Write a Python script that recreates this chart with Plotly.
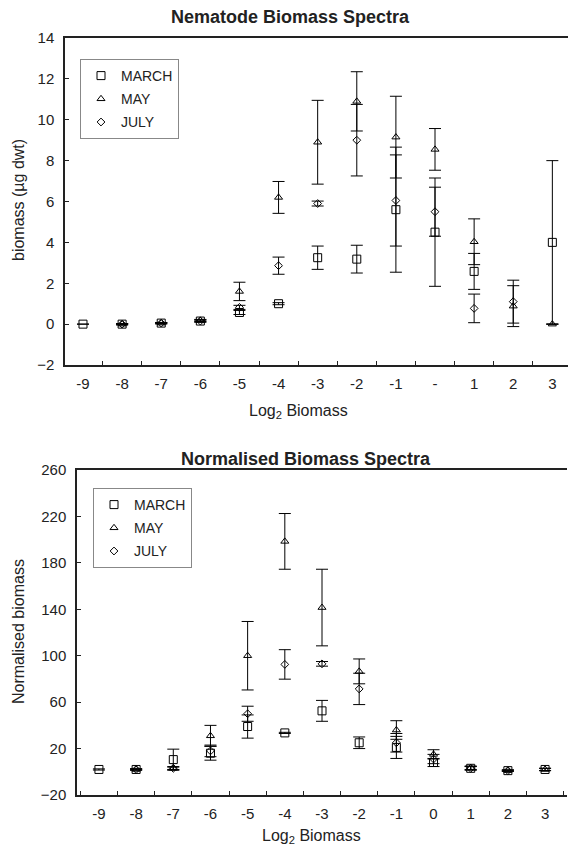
import plotly.graph_objects as go

W, H = 569, 847

x_vals = [-9, -8, -7, -6, -5, -4, -3, -2, -1, 0, 1, 2, 3]
top_ticktext = ["-9", "-8", "-7", "-6", "-5", "-4", "-3", "-2", "-1", "-", "1", "2", "3"]
bot_ticktext = ["-9", "-8", "-7", "-6", "-5", "-4", "-3", "-2", "-1", "0", "1", "2", "3"]

# Nematode biomass (ug dwt)
bio_march = [0.0, 0.0, 0.05, 0.15, 0.57, 1.0, 3.25, 3.18, 5.6, 4.5, 2.58, None, 4.0]
bio_march_err = [0.0, 0.03, 0.03, 0.05, 0.1, 0.05, 0.57, 0.68, 3.06, 2.65, 0.88, None, 4.0]
bio_may = [None, 0.0, 0.05, 0.18, 1.6, 6.2, 8.9, 10.9, 9.15, 8.55, 4.03, 0.88, 0.0]
bio_may_err = [None, 0.03, 0.03, 0.05, 0.45, 0.78, 2.05, 1.45, 2.0, 1.02, 1.12, 1.0, 0.0]
bio_july = [None, 0.0, 0.05, 0.15, 0.82, 2.86, 5.9, 9.0, 6.05, 5.5, 0.77, 1.1, None]
bio_july_err = [None, 0.03, 0.03, 0.05, 0.1, 0.42, 0.12, 1.75, 2.23, 1.2, 0.7, 1.05, None]

# Normalised biomass
nor_march = [2, 2, 10.5, 16, 39, 33.5, 52.5, 25, 21, 8, 3, 1, 2]
nor_march_err = [0.5, 0.5, 9, 6, 10, 0.5, 9, 5, 9.5, 3.5, 1.5, 0.5, 1]
nor_may = [None, 2, 3, 31, 100, 198.5, 141.5, 86.5, 36, 15, 3.5, 1, 2]
nor_may_err = [None, 0.5, 1, 9, 29.5, 24, 33, 10.7, 8, 4, 1.5, 0.5, 1]
nor_july = [None, 2, 3, 18, 50, 92.5, 93, 71.4, 25, 11, 3, 1, None]
nor_july_err = [None, 0.5, 1.5, 5, 6.5, 12.7, 2, 13.5, 8, 4, 1.5, 0.5, None]

series_names = ["MARCH", "MAY", "JULY"]
symbols = ["square-open", "triangle-up-open", "diamond-open"]
sizes = [8, 7, 6]

FONT = "Liberation Sans, Arial, sans-serif"


def px_x(p):
    return p / W


def px_y(p):
    return 1 - p / H


fig = go.Figure()

top_sets = [(bio_march, bio_march_err), (bio_may, bio_may_err), (bio_july, bio_july_err)]
bot_sets = [(nor_march, nor_march_err), (nor_may, nor_may_err), (nor_july, nor_july_err)]

for i, (vals, errs) in enumerate(top_sets):
    fig.add_trace(go.Scatter(
        x=x_vals, y=vals, mode="markers", name=series_names[i],
        marker=dict(symbol=symbols[i], size=sizes[i], color="black",
                    line=dict(color="black", width=1)),
        error_y=dict(type="data", array=errs, visible=True, color="black",
                     thickness=1, width=6),
        xaxis="x", yaxis="y", legend="legend", legendgroup="t%d" % i,
    ))

for i, (vals, errs) in enumerate(bot_sets):
    fig.add_trace(go.Scatter(
        x=x_vals, y=vals, mode="markers", name=series_names[i],
        marker=dict(symbol=symbols[i], size=sizes[i], color="black",
                    line=dict(color="black", width=1)),
        error_y=dict(type="data", array=errs, visible=True, color="black",
                     thickness=1, width=6),
        xaxis="x2", yaxis="y2", legend="legend2", legendgroup="b%d" % i,
    ))

axis_common = dict(showline=True, linecolor="#222", linewidth=1.5, showgrid=False,
                   zeroline=False, automargin=False,
                   tickfont=dict(family=FONT, size=15, color="#222"))

fig.update_layout(
    width=W, height=H,
    margin=dict(l=0, r=0, t=0, b=0),
    paper_bgcolor="white", plot_bgcolor="white",
    font=dict(family=FONT, color="#222"),
    xaxis=dict(domain=[px_x(65), px_x(568)], range=[-9.46, 3.4], anchor="y",
               tickvals=x_vals, ticktext=top_ticktext, ticks="", mirror=True,
               ticklabelstandoff=4,
               minor=dict(tick0=0.5, dtick=1, ticks="inside", ticklen=4, tickcolor="#222"),
               **axis_common),
    yaxis=dict(domain=[px_y(365), px_y(38)], range=[-2, 14], anchor="x",
               tick0=0, dtick=2, ticks="inside", ticklen=4, tickcolor="#222",
               ticklabelstandoff=6, **axis_common),
    xaxis2=dict(domain=[px_x(77), px_x(567)], range=[-9.59, 3.59], anchor="y2",
                tickvals=x_vals, ticktext=bot_ticktext, ticks="", mirror=True,
                ticklabelstandoff=4,
                minor=dict(tick0=0.5, dtick=1, ticks="inside", ticklen=4, tickcolor="#222"),
                **axis_common),
    yaxis2=dict(domain=[px_y(795), px_y(470)], range=[-20, 260], anchor="x2",
                tick0=-20, dtick=40, ticks="inside", ticklen=4, tickcolor="#222",
                ticklabelstandoff=6, **axis_common),
    legend=dict(x=px_x(80), y=px_y(59), xanchor="left", yanchor="top",
                bordercolor="#888", borderwidth=1, bgcolor="white",
                font=dict(family=FONT, size=14, color="#222"), tracegroupgap=2),
    legend2=dict(x=px_x(93), y=px_y(488), xanchor="left", yanchor="top",
                 bordercolor="#888", borderwidth=1, bgcolor="white",
                 font=dict(family=FONT, size=14, color="#222"), tracegroupgap=2),
    showlegend=True,
)

annotations = [
    dict(text="<b>Nematode Biomass Spectra</b>", x=px_x(290), y=px_y(17), font=dict(size=18)),
    dict(text="<b>Normalised Biomass Spectra</b>", x=px_x(306), y=px_y(459), font=dict(size=18)),
    dict(text="Log<sub>2</sub> Biomass", x=px_x(298), y=px_y(411), font=dict(size=16)),
    dict(text="Log<sub>2</sub> Biomass", x=px_x(311), y=px_y(836), font=dict(size=16)),
    dict(text="biomass (µg dwt)", x=px_x(18), y=px_y(200), textangle=-90, font=dict(size=16)),
    dict(text="Normalised biomass", x=px_x(18), y=px_y(632), textangle=-90, font=dict(size=16)),
]
for a in annotations:
    a.update(xref="paper", yref="paper", showarrow=False, xanchor="center", yanchor="middle")
    a["font"].update(family=FONT, color="#222")
fig.update_layout(annotations=annotations)

fig.write_html(
    "out.html",
    config={"displayModeBar": False},
    post_script="document.body.style.margin='0';document.body.style.overflow='hidden';",
)
